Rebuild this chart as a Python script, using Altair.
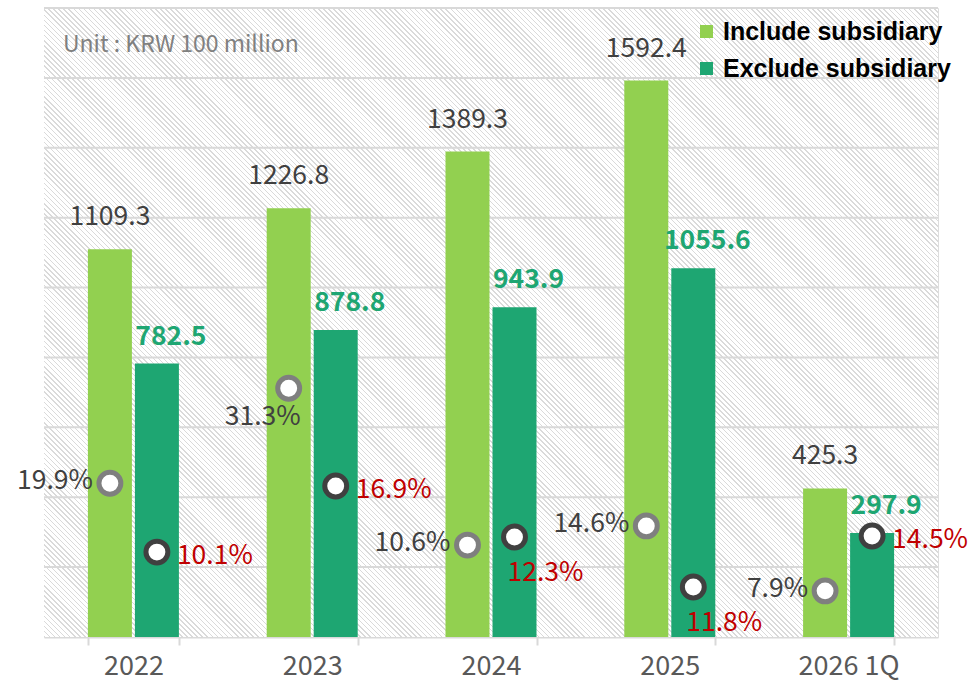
import math
import json
import altair as alt
import pandas as pd

# ---------------- data ----------------
years = ["2022", "2023", "2024", "2025", "2026 1Q"]
series = ["Include subsidiary", "Exclude subsidiary"]
include_values = [1109.3, 1226.8, 1389.3, 1592.4, 425.3]
exclude_values = [782.5, 878.8, 943.9, 1055.6, 297.9]
include_rate_labels = ["19.9%", "31.3%", "10.6%", "14.6%", "7.9%"]
exclude_rate_labels = ["10.1%", "16.9%", "12.3%", "11.8%", "14.5%"]
# marker heights (on the value axis)
include_marker_pos = [440, 712, 263, 318, 132]
exclude_marker_pos = [243, 432, 286, 143, 289]
grid_values = [200, 400, 600, 800, 1000, 1200, 1400, 1600, 1800]
unit_text = "Unit : KRW 100 million"

bars = pd.DataFrame({
    "year": years * 2,
    "series": [series[0]] * 5 + [series[1]] * 5,
    "value": include_values + exclude_values,
    "label": [f"{v:.1f}" for v in include_values + exclude_values],
})
markers = pd.DataFrame({
    "year": years * 2,
    "series": [series[0]] * 5 + [series[1]] * 5,
    "pos": include_marker_pos + exclude_marker_pos,
    "rate": include_rate_labels + exclude_rate_labels,
})
grid = pd.DataFrame({"g": grid_values})

# ---------------- style ----------------
W, H = 894, 629
FONT = "Noto Sans CJK KR"
FS = 26.5
C_INC, C_EXC = "#92d050", "#1ea672"

# diagonal hatch as a hard-stop linear gradient
r = H / W
k = (1 + r) / (1 + r * r)
L = (W + H) / math.sqrt(2)
period = 3.6
n = int(L / period)
frac = 0.3
stops = []
for i in range(n):
    a = i / n
    b = (i + frac) / n
    c = (i + 1) / n
    stops += [alt.GradientStop(offset=a, color="#dadada"),
              alt.GradientStop(offset=b, color="#dadada"),
              alt.GradientStop(offset=b, color="#ffffff"),
              alt.GradientStop(offset=c, color="#ffffff")]
hatch = alt.LinearGradient(gradient="linear", stops=stops,
                           x1=0, y1=1, x2=k, y2=1 - r * k)

yscale = alt.Scale(domain=[0, 1800], nice=False, zero=True)
xenc = alt.X("year:N", sort=years,
             scale=alt.Scale(paddingInner=0.491, paddingOuter=0.2455),
             axis=alt.Axis(title=None, labelAngle=0, labelFont=FONT, labelFontSize=27,
                           labelColor="#595959", domainColor="#d9d9d9", domainWidth=2,
                           tickColor="#d9d9d9", tickWidth=2, tickSize=8, tickBand="extent",
                           labelPadding=8, grid=False))
xoff = alt.XOffset("series:N", sort=series, scale=alt.Scale(paddingInner=0.064))

one = alt.Data(values=[{"a": 1}])

background = alt.Chart(one).mark_rect(color=hatch).encode(
    x=alt.value(0), x2=alt.value("width"), y=alt.value(0), y2=alt.value("height"))

unit_label = alt.Chart(one).mark_text(
    text=unit_text, font=FONT, fontSize=23, color="#808080", align="left",
    baseline="alphabetic").encode(x=alt.value(19), y=alt.value(44))

gridlines = alt.Chart(grid).mark_rule(color="#d9d9d9", strokeWidth=2).encode(
    y=alt.Y("g:Q", scale=yscale, axis=None), x=alt.value(0), x2=alt.value("width"))

bar_layer = alt.Chart(bars).mark_bar().encode(
    x=xenc, xOffset=xoff,
    y=alt.Y("value:Q", scale=yscale, axis=None),
    color=alt.Color("series:N", scale=alt.Scale(domain=series, range=[C_INC, C_EXC]),
                    legend=alt.Legend(title=None, orient="none", legendX=650, legendY=11,
                                      direction="vertical", symbolType="square",
                                      symbolSize=169, symbolStrokeWidth=0,
                                      labelFont="Liberation Sans", labelFontSize=25,
                                      labelFontWeight="bold", labelColor="#000000",
                                      labelOffset=4, rowPadding=11, padding=0,
                                      labelLimit=400)),
)

inc_labels = alt.Chart(bars).transform_filter(
    alt.datum.series == series[0]).mark_text(
    font=FONT, fontSize=FS, color="#404040", baseline="middle", dy=-32).encode(
    x=xenc, xOffset=xoff, y=alt.Y("value:Q", scale=yscale), text="label:N")

exc_labels = alt.Chart(bars).transform_filter(
    alt.datum.series == series[1]).mark_text(
    font=FONT, fontSize=FS, fontWeight="bold", color=C_EXC, baseline="middle",
    dx=14, dy=-27).encode(
    x=xenc, xOffset=xoff, y=alt.Y("value:Q", scale=yscale), text="label:N")

marker_layer = alt.Chart(markers).mark_point(
    shape="circle", filled=False, fill="white", fillOpacity=1, size=480,
    strokeWidth=5, opacity=1).encode(
    x=xenc, xOffset=xoff, y=alt.Y("pos:Q", scale=yscale),
    stroke=alt.Stroke("series:N", scale=alt.Scale(domain=series, range=["#7f7f7f", "#404040"]),
                      legend=None))

inc_below = ["2023"]
exc_below = ["2024", "2025"]

def rate_text(ser, years_below, below, **kw):
    test = f"indexof({json.dumps(years_below)}, datum.year) {'>=' if below else '<'} 0"
    return alt.Chart(markers).transform_filter(
        f"datum.series == '{ser}' && {test}").mark_text(
        font=FONT, fontSize=FS, baseline="middle", **kw).encode(
        x=xenc, xOffset=xoff, y=alt.Y("pos:Q", scale=yscale), text="rate:N")

inc_side = rate_text(series[0], inc_below, False,
                     color="#404040", align="right", dx=-17, dy=-2)
inc_down = rate_text(series[0], inc_below, True,
                     color="#404040", align="right", dx=12, dy=29)
exc_side = rate_text(series[1], exc_below, False,
                     color="#c00000", align="left", dx=20, dy=4)
exc_down = rate_text(series[1], exc_below, True,
                     color="#c00000", align="left", dx=-7, dy=36)

chart = alt.layer(
    background, gridlines, unit_label, bar_layer, inc_labels, exc_labels,
    marker_layer, inc_side, inc_down, exc_side, exc_down,
).resolve_scale(y="shared").properties(
    width=W, height=H,
    autosize=alt.AutoSizeParams(type="none"),
    padding={"left": 44, "top": 8, "right": 31, "bottom": 46},
).configure_view(stroke=None).configure(background="white")

chart.save("out.html", embed_options={"renderer": "svg", "actions": False})
